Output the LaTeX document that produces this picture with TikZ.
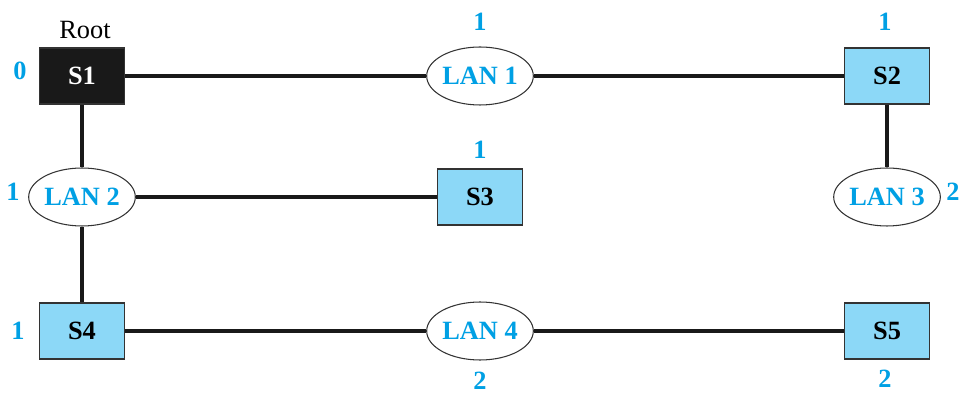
\documentclass[tikz,border=0pt]{standalone}
\usepackage{fontspec}
\setmainfont{Liberation Serif}
\usetikzlibrary{shapes.geometric}
\definecolor{swfill}{RGB}{140,216,247}
\definecolor{numblue}{RGB}{0,160,228}
\tikzset{
  bridge/.style={draw=black!80, fill=swfill, line width=0.6pt, minimum width=1.7cm,
    minimum height=1.12cm, inner sep=0pt, font=\fontsize{15}{17}\selectfont\bfseries},
  rootbridge/.style={bridge, fill=black!90, text=white},
  lan/.style={ellipse, draw=black!80, fill=white, line width=0.6pt, minimum width=2.08cm,
    minimum height=1.16cm, inner sep=0pt, text=numblue, font=\fontsize{15}{17}\selectfont\bfseries},
  portnum/.style={text=numblue, inner sep=0pt, font=\fontsize{15}{17}\selectfont\bfseries},
  wire/.style={line width=2.2pt, black!90}
}
\begin{document}
\begin{tikzpicture}[x=0.02cm, y=-0.02cm]
\useasboundingbox (0,0) rectangle (962,394);
% bridges
\node[rootbridge] (s1) at (82,76) {S1};
\node[bridge] (s2) at (887,76) {S2};
\node[bridge] (s3) at (480,197) {S3};
\node[bridge] (s4) at (82,331) {S4};
\node[bridge] (s5) at (887,331) {S5};
% lans
\node[lan] (lan1) at (480,76) {LAN 1};
\node[lan] (lan2) at (82,197) {LAN 2};
\node[lan] (lan3) at (887,197) {LAN 3};
\node[lan] (lan4) at (480,331) {LAN 4};
% wires
\draw[wire] (s1) -- (lan1);
\draw[wire] (lan1) -- (s2);
\draw[wire] (s1) -- (lan2);
\draw[wire] (lan2) -- (s3);
\draw[wire] (lan2) -- (s4);
\draw[wire] (s2) -- (lan3);
\draw[wire] (s4) -- (lan4);
\draw[wire] (lan4) -- (s5);
% root label
\node[inner sep=0pt, font=\fontsize{15}{17}\selectfont] (root) at (85,30) {Root};
% costs
\node[portnum] (c1) at (20,71) {0};
\node[portnum] (c2) at (480,22) {1};
\node[portnum] (c3) at (885,22) {1};
\node[portnum] (c4) at (480,150) {1};
\node[portnum] (c5) at (13,192) {1};
\node[portnum] (c6) at (953,192) {2};
\node[portnum] (c7) at (18,331) {1};
\node[portnum] (c8) at (480,381) {2};
\node[portnum] (c9) at (885,379) {2};
\end{tikzpicture}
\end{document}
